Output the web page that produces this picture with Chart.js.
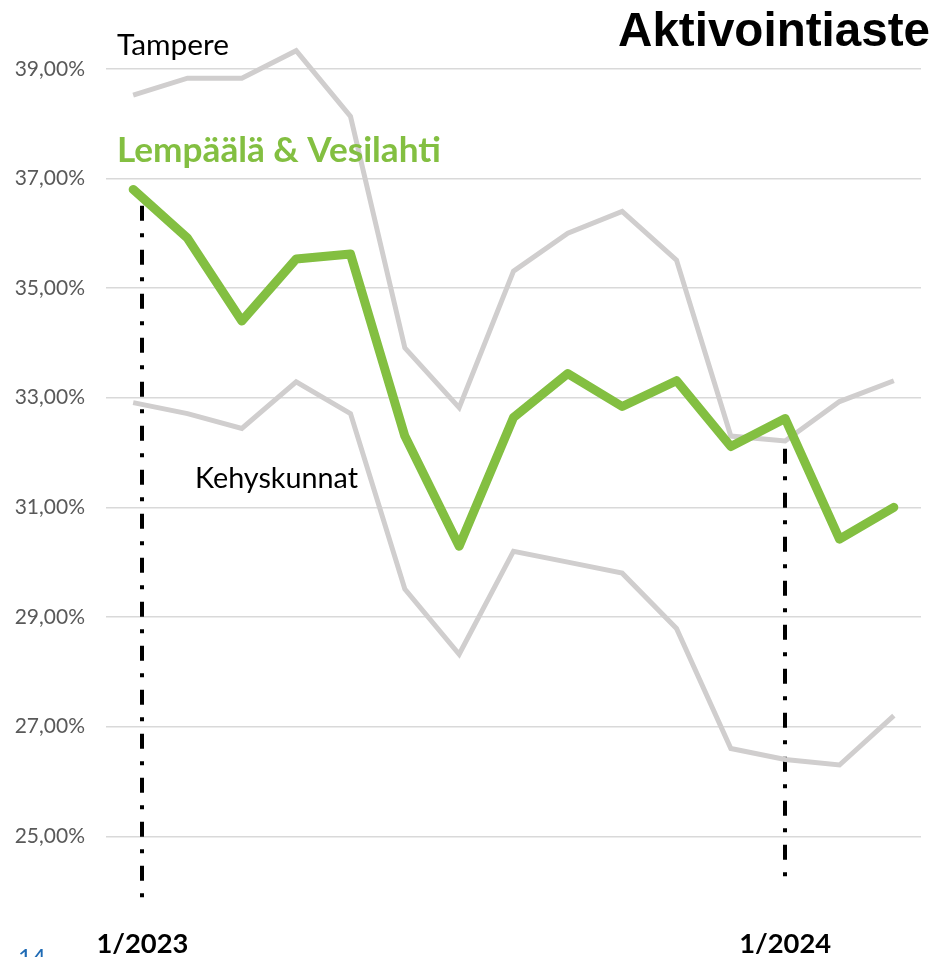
<!DOCTYPE html>
<html>
<head>
<meta charset="utf-8">
<script src="https://cdn.jsdelivr.net/npm/chart.js@4"></script>
<style>
  html, body { margin: 0; padding: 0; background: #ffffff; }
  #wrap { position: relative; width: 937px; height: 957px; }
</style>
</head>
<body>
<div id="wrap"><canvas id="c" width="937" height="957"></canvas></div>
<script>
// ---- data ----
const categories = ['1/2023','2/2023','3/2023','4/2023','5/2023','6/2023','7/2023','8/2023','9/2023','10/2023','11/2023','12/2023','1/2024','2/2024','3/2024'];
const lempaalaVesilahti = [36.80, 35.91, 34.40, 35.53, 35.62, 32.30, 30.29, 32.64, 33.44, 32.84, 33.31, 32.11, 32.62, 30.42, 31.00];
const tampere = [38.52, 38.83, 38.83, 39.33, 38.13, 33.91, 32.82, 35.31, 36.00, 36.40, 35.51, 32.30, 32.21, 32.93, 33.31];
const kehyskunnat = [32.91, 32.71, 32.44, 33.29, 32.71, 29.51, 28.32, 30.20, 30.00, 29.80, 28.79, 26.60, 26.40, 26.30, 27.20];
const yTicks = [25, 27, 29, 31, 33, 35, 37, 39];
const markerLabels = ['1/2023', '1/2024'];
const markerCategory = [0.17, 12];          // position on category axis
const markerRange = [[36.5, 23.83], [32.07, 24.23]]; // y extent in %
const seriesNames = ['Lempäälä & Vesilahti', 'Tampere', 'Kehyskunnat'];
const titleText = 'Aktivointiaste';
const pageNumber = '14';

const GREEN = '#83BF41';
const GREY = '#D0CECE';

function fitSize(ctx, text, weight, family, target) {
  ctx.font = weight + ' 100px ' + family;
  const w = ctx.measureText(text).width;
  return 100 * target / w;
}

const overlay = {
  id: 'overlay',
  beforeDatasetsDraw(chart) {
    const ctx = chart.ctx;
    const xs = chart.scales.x, ys = chart.scales.y;
    ctx.save();
    ctx.strokeStyle = '#000000';
    ctx.lineWidth = 4;
    ctx.lineCap = 'butt';
    ctx.setLineDash([15, 12.5, 4, 12.5]);
    markerCategory.forEach((c, i) => {
      const x = Math.round(xs.getPixelForValue(c));
      ctx.beginPath();
      ctx.moveTo(x, ys.getPixelForValue(markerRange[i][0]));
      ctx.lineTo(x, ys.getPixelForValue(markerRange[i][1]));
      ctx.stroke();
    });
    ctx.restore();
  },
  afterDraw(chart) {
    const ctx = chart.ctx;
    const xs = chart.scales.x;
    ctx.save();
    ctx.textBaseline = 'alphabetic';
    // title
    let s = fitSize(ctx, titleText, 'bold', '"Liberation Sans", Arial, sans-serif', 312);
    ctx.font = 'bold ' + s + 'px "Liberation Sans", Arial, sans-serif';
    ctx.fillStyle = '#000000';
    ctx.textAlign = 'right';
    ctx.fillText(titleText, 930, 46);
    // series labels
    ctx.textAlign = 'left';
    s = fitSize(ctx, seriesNames[1], 'normal', 'Lato, sans-serif', 112);
    ctx.font = 'normal ' + s + 'px Lato, sans-serif';
    ctx.fillStyle = '#000000';
    ctx.fillText(seriesNames[1], 117, 55);
    s = fitSize(ctx, seriesNames[0], 'bold', 'Lato, sans-serif', 324);
    ctx.font = 'bold ' + s + 'px Lato, sans-serif';
    ctx.fillStyle = GREEN;
    ctx.fillText(seriesNames[0], 117, 162);
    s = fitSize(ctx, seriesNames[2], 'normal', 'Lato, sans-serif', 163);
    ctx.font = 'normal ' + s + 'px Lato, sans-serif';
    ctx.fillStyle = '#000000';
    ctx.fillText(seriesNames[2], 195, 488);
    // marker labels
    ctx.textAlign = 'center';
    markerLabels.forEach((t, i) => {
      const sz = fitSize(ctx, t, 'bold', 'Lato, sans-serif', 92);
      ctx.font = 'bold ' + sz + 'px Lato, sans-serif';
      ctx.fillStyle = '#000000';
      ctx.fillText(t, xs.getPixelForValue(markerCategory[i]), 953);
    });
    // page number
    ctx.textAlign = 'left';
    ctx.font = 'normal 24px Lato, sans-serif';
    ctx.fillStyle = '#1F6BB5';
    ctx.fillText(pageNumber, 18, 966);
    ctx.restore();
  }
};

new Chart(document.getElementById('c'), {
  type: 'line',
  data: {
    labels: categories,
    datasets: [
      { label: seriesNames[1], data: tampere, borderColor: GREY, borderWidth: 5, pointRadius: 0, tension: 0, borderJoinStyle: 'miter', order: 3 },
      { label: seriesNames[2], data: kehyskunnat, borderColor: GREY, borderWidth: 5, pointRadius: 0, tension: 0, borderJoinStyle: 'miter', order: 2 },
      { label: seriesNames[0], data: lempaalaVesilahti, borderColor: GREEN, borderWidth: 9, pointRadius: 0, tension: 0, borderCapStyle: 'round', borderJoinStyle: 'round', order: 1 }
    ]
  },
  options: {
    responsive: false,
    animation: false,
    events: [],
    layout: { padding: { left: 0, right: 16, top: 14, bottom: 44 } },
    plugins: { legend: { display: false }, tooltip: { enabled: false }, title: { display: false } },
    scales: {
      x: { type: 'category', display: false, offset: true },
      y: {
        min: 23.6, max: 40,
        afterBuildTicks(scale) { scale.ticks = yTicks.map(v => ({ value: v })); },
        afterFit(scale) { scale.width = 106; scale.paddingTop = 0; scale.paddingBottom = 0; },
        border: { display: false },
        grid: { color: '#D9D9D9', lineWidth: 1.5, drawTicks: false },
        ticks: {
          padding: 21,
          color: '#595959',
          font: { family: 'Lato, sans-serif', size: 21 },
          callback: v => v.toFixed(2).replace('.', ',') + '%'
        }
      }
    }
  },
  plugins: [overlay]
});
</script>
</body>
</html>
